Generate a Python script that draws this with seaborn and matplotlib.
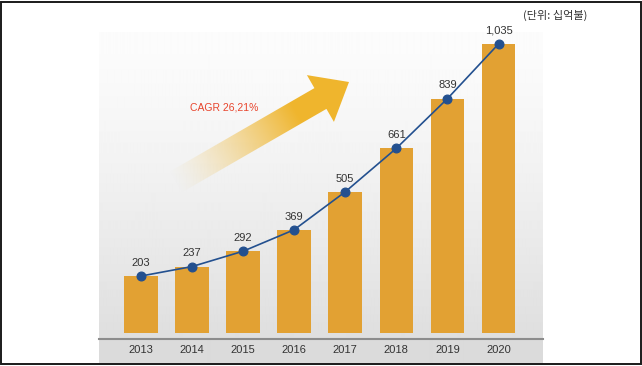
import numpy as np
import pandas as pd
import matplotlib
matplotlib.use('Agg')
import matplotlib.pyplot as plt
import seaborn as sns
from matplotlib.patches import Polygon, Rectangle

# ---- data ----
years = ['2013', '2014', '2015', '2016', '2017', '2018', '2019', '2020']
values = [203, 237, 292, 369, 505, 661, 839, 1035]
value_labels = ['203', '237', '292', '369', '505', '661', '839', '1,035']
unit_label = '(단위: 십억불)'
cagr_label = 'CAGR 26,21%'

sns.set_theme(style='white')
plt.rcParams['font.family'] = ['Liberation Sans', 'Noto Sans CJK KR', 'DejaVu Sans']

W, H = 642, 366
fig = plt.figure(figsize=(6.42, 3.66), dpi=100, facecolor='white')


def fx(px):
    return px / W


def fy(py):
    return 1 - py / H


# ---- background panel (gradient) ----
bg = fig.add_axes([fx(99), fy(363), fx(543) - fx(99), fy(32) - fy(363)], zorder=0)
rows = []
for py in range(32, 363):
    if py < 339:
        f = (py - 32) / (339 - 32)
        g = 252 - (f ** 1.3) * (252 - 222)
    else:
        g = 219
    rows.append(g)
grad = np.array(rows)[:, None] / 255.0
bg.imshow(np.repeat(grad, 2, axis=1), cmap='gray', vmin=0, vmax=1,
          aspect='auto', extent=[0, 1, 0, 1], interpolation='bilinear')
bg.set_axis_off()

# ---- decorative arrow ----
ov = fig.add_axes([0, 0, 1, 1], zorder=1)
ov.set_xlim(0, W)
ov.set_ylim(H, 0)
ov.set_axis_off()
ov.patch.set_alpha(0)
ang = np.deg2rad(30)
d = np.array([np.cos(ang), -np.sin(ang)])
n = np.array([np.sin(ang), np.cos(ang)])
tip = np.array([349.0, 82.0])
base = tip - 33 * d
tail = base - 170 * d
hw_head, hw_shaft = 27.0, 12.0
pts = [tail - hw_shaft * n, base - hw_shaft * n, base - hw_head * n, tip,
       base + hw_head * n, base + hw_shaft * n, tail + hw_shaft * n]
poly = Polygon(pts, closed=True, facecolor='none', edgecolor='none')
ov.add_patch(poly)
x0, x1, y0, y1 = 140, 370, 50, 220
xs = np.linspace(x0, x1, 460)
ys = np.linspace(y0, y1, 340)
XX, YY = np.meshgrid(xs, ys)
L = np.linalg.norm(tip - tail)
t = ((XX - tail[0]) * d[0] + (YY - tail[1]) * d[1]) / L
alpha = np.clip(t / 0.7, 0, 1) ** 1.4
rgba = np.zeros(XX.shape + (4,))
rgba[..., 0] = 0.94
rgba[..., 1] = 0.71
rgba[..., 2] = 0.18
rgba[..., 3] = alpha
im = ov.imshow(rgba, extent=[x0, x1, y1, y0], origin='upper', interpolation='bilinear')
im.set_clip_path(poly)

# ---- main chart ----
ax = fig.add_axes([fx(99), fy(339.3), fx(543) - fx(99), fy(32.3) - fy(339.3)], zorder=2)
ax.patch.set_alpha(0)
df = pd.DataFrame({'year': years, 'value': values})
sns.barplot(data=df, x='year', y='value', color='#e2a133', width=0.66,
            saturation=1, edgecolor='none', ax=ax)
sns.pointplot(data=df, x='year', y='value', color='#23508f', errorbar=None,
              markersize=6.3, linewidth=1.2, ax=ax)
for i, (v, lab) in enumerate(zip(values, value_labels)):
    ax.annotate(lab, (i, v), xytext=(0, 9.5), textcoords='offset points',
                ha='center', va='center', fontsize=8, color='#333333', zorder=5)

ax.set_xlim(-0.82, 7.87)
ax.set_ylim(-23.7, 1076.7)
ax.set_xlabel('')
ax.set_ylabel('')
ax.set_yticks([])
ax.tick_params(axis='x', length=0, pad=4.2, labelsize=8, labelcolor='#333333')
for s in ['left', 'top', 'right']:
    ax.spines[s].set_visible(False)
ax.spines['bottom'].set_color('#8c8c8c')
ax.spines['bottom'].set_linewidth(1.5)

# ---- texts ----
fig.text(fx(224.5), fy(108), cagr_label, ha='center', va='center',
         color='#e8442c', fontsize=7.5, zorder=5)
fig.text(fx(555), fy(15), unit_label, ha='center', va='center',
         family=['Noto Sans CJK KR', 'DejaVu Sans'], fontsize=8, color='#333333')

# ---- border ----
fig.add_artist(Rectangle((fx(1.5), fy(364)), fx(640.5) - fx(1.5), fy(1.5) - fy(364),
                         transform=fig.transFigure, fill=False,
                         edgecolor='#1a1a1a', linewidth=1.4))

fig.savefig('out.png', dpi=100, facecolor='white')
